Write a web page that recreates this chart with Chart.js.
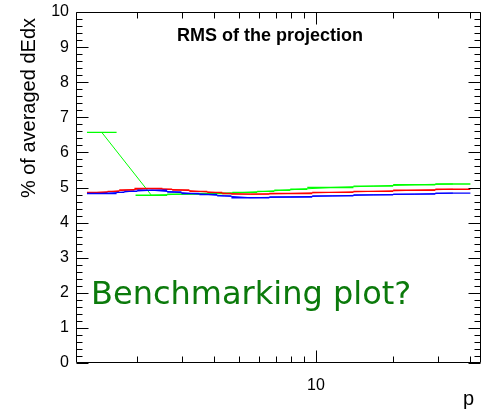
<!DOCTYPE html>
<html>
<head>
<meta charset="utf-8">
<script src="https://cdn.jsdelivr.net/npm/chart.js@4/dist/chart.umd.min.js"></script>
<style>
  html, body { margin: 0; padding: 0; background: #ffffff; }
  #wrap { width: 482px; height: 414px; }
</style>
</head>
<body>
<div id="wrap"><canvas id="c" width="482" height="414"></canvas></div>
<script>
// Momentum bins (lower / upper edge) and RMS of the projection for each series
const redLow   = [1.28, 1.54, 1.71, 1.96, 2.52, 2.75, 3.21, 3.77, 4.31, 4.68, 6.58, 9.67, 14.0, 20.0, 29.2];
const redHigh  = [1.54, 1.71, 1.96, 2.52, 2.75, 3.21, 3.77, 4.31, 4.68, 6.58, 9.67, 14.0, 20.0, 29.2, 40.0];
const redRms   = [4.86, 4.89, 4.93, 4.97, 4.95, 4.93, 4.89, 4.86, 4.83, 4.81, 4.83, 4.86, 4.89, 4.92, 4.95];

const blueLow  = [1.28, 1.67, 1.79, 2.01, 2.63, 2.99, 3.51, 4.12, 4.68, 6.58, 9.67, 14.0, 20.0, 29.2];
const blueHigh = [1.67, 1.79, 2.01, 2.63, 2.99, 3.51, 4.12, 4.68, 6.58, 9.67, 14.0, 20.0, 29.2, 40.0];
const blueRms  = [4.83, 4.86, 4.89, 4.92, 4.87, 4.83, 4.80, 4.76, 4.71, 4.73, 4.76, 4.79, 4.81, 4.84];

const greenLow  = [1.28, 1.98, 2.63, 3.51, 4.72, 5.90, 6.88, 7.94, 9.25, 14.0, 20.0, 29.2];
const greenHigh = [1.67, 2.63, 3.51, 4.72, 5.90, 6.88, 7.94, 9.25, 14.0, 20.0, 29.2, 40.0];
const greenRms  = [6.57, 4.78, 4.81, 4.83, 4.86, 4.89, 4.92, 4.95, 5.00, 5.04, 5.08, 5.10];

// Axis ticks
const yTickValues = [0, 1, 2, 3, 4, 5, 6, 7, 8, 9, 10];
const yTickLabels = ['0', '1', '2', '3', '4', '5', '6', '7', '8', '9', '10'];
const xMajorTicks = [10];
const xTickLabels = ['10'];
const xMinorTicks = [2, 3, 4, 5, 6, 7, 8, 9, 20, 30, 40];

// horizontal bar per bin, separated by gaps
function binBars(lo, hi, v) {
  const pts = [];
  for (let i = 0; i < v.length; i++) {
    pts.push({ x: lo[i], y: v[i] }, { x: hi[i], y: v[i] }, { x: hi[i], y: null });
  }
  return pts;
}
// polyline through the bin centres (geometric centre on the log axis)
function binLink(lo, hi, v) {
  return v.map((y, i) => ({ x: Math.sqrt(lo[i] * hi[i]), y }));
}
function seriesSets(lo, hi, v, color) {
  const common = { borderColor: color, backgroundColor: color, pointRadius: 0, fill: false, tension: 0 };
  return [
    Object.assign({ data: binBars(lo, hi, v), spanGaps: false, borderWidth: 1.4 }, common),
    Object.assign({ data: binLink(lo, hi, v), borderWidth: 1 }, common)
  ];
}

const framePlugin = {
  id: 'rootFrame',
  afterDraw(chart) {
    const ctx = chart.ctx;
    const a = chart.chartArea;
    const xs = chart.scales.x, ys = chart.scales.y;
    const L = Math.round(a.left) + 0.5, R = Math.round(a.right) - 0.5;
    const T = Math.round(a.top) + 0.5, B = Math.round(a.bottom) - 0.5;
    ctx.save();
    ctx.strokeStyle = '#000';
    ctx.lineWidth = 1;
    ctx.beginPath();
    ctx.rect(L, T, R - L, B - T);
    // y ticks: majors every unit, minors every 0.2
    for (let i = 0; i < yTickValues.length; i++) {
      const v = yTickValues[i];
      const y = Math.round(ys.getPixelForValue(v)) + 0.5;
      ctx.moveTo(L, y); ctx.lineTo(L + 12, y);
      ctx.moveTo(R, y); ctx.lineTo(R - 12, y);
      if (i < yTickValues.length - 1) {
        const step = (yTickValues[i + 1] - v) / 5;
        for (let k = 1; k < 5; k++) {
          const ym = Math.round(ys.getPixelForValue(v + k * step)) + 0.5;
          ctx.moveTo(L, ym); ctx.lineTo(L + 6, ym);
          ctx.moveTo(R, ym); ctx.lineTo(R - 6, ym);
        }
      }
    }
    xMajorTicks.forEach(v => {
      const x = Math.round(xs.getPixelForValue(v)) + 0.5;
      ctx.moveTo(x, B); ctx.lineTo(x, B - 12);
      ctx.moveTo(x, T); ctx.lineTo(x, T + 12);
    });
    xMinorTicks.forEach(v => {
      const x = Math.round(xs.getPixelForValue(v)) + 0.5;
      ctx.moveTo(x, B); ctx.lineTo(x, B - 6);
      ctx.moveTo(x, T); ctx.lineTo(x, T + 6);
    });
    ctx.stroke();

    ctx.fillStyle = '#000';
    ctx.font = '16px "Liberation Sans", Arial, sans-serif';
    ctx.textAlign = 'right';
    ctx.textBaseline = 'middle';
    yTickValues.forEach((v, i) => ctx.fillText(yTickLabels[i], a.left - 7, ys.getPixelForValue(v)));
    ctx.textAlign = 'center';
    ctx.textBaseline = 'top';
    xMajorTicks.forEach((v, i) => ctx.fillText(xTickLabels[i], xs.getPixelForValue(v), a.bottom + 15));

    // axis titles
    ctx.font = '20px "Liberation Sans", Arial, sans-serif';
    ctx.textAlign = 'right';
    ctx.textBaseline = 'alphabetic';
    ctx.fillText('p', 474, 405);
    ctx.save();
    ctx.translate(35, 18);
    ctx.rotate(-Math.PI / 2);
    ctx.textAlign = 'right';
    ctx.fillText('% of averaged dEdx', 0, 0);
    ctx.restore();

    // title inside the frame
    ctx.font = 'bold 18px "Liberation Sans", Arial, sans-serif';
    ctx.textAlign = 'center';
    ctx.fillText('RMS of the projection', 270, 41);

    // note
    ctx.fillStyle = '#0b7a0b';
    ctx.font = '32px "DejaVu Sans", sans-serif';
    ctx.textAlign = 'left';
    ctx.fillText('Benchmarking plot?', 91, 304);
    ctx.restore();
  }
};

new Chart(document.getElementById('c'), {
  type: 'line',
  data: {
    datasets: [
      ...seriesSets(blueLow, blueHigh, blueRms, '#0000ff'),
      ...seriesSets(redLow, redHigh, redRms, '#ff0000'),
      ...seriesSets(greenLow, greenHigh, greenRms, '#00ff00')
    ]
  },
  options: {
    responsive: false,
    animation: false,
    devicePixelRatio: 1,
    layout: { padding: { left: 76, right: 1, top: 12, bottom: 51 } },
    plugins: { legend: { display: false }, tooltip: { enabled: false }, title: { display: false } },
    scales: {
      x: { type: 'logarithmic', min: 1.16, max: 44, display: false },
      y: { type: 'linear', min: 0, max: 10, display: false }
    }
  },
  plugins: [framePlugin]
});
</script>
</body>
</html>
